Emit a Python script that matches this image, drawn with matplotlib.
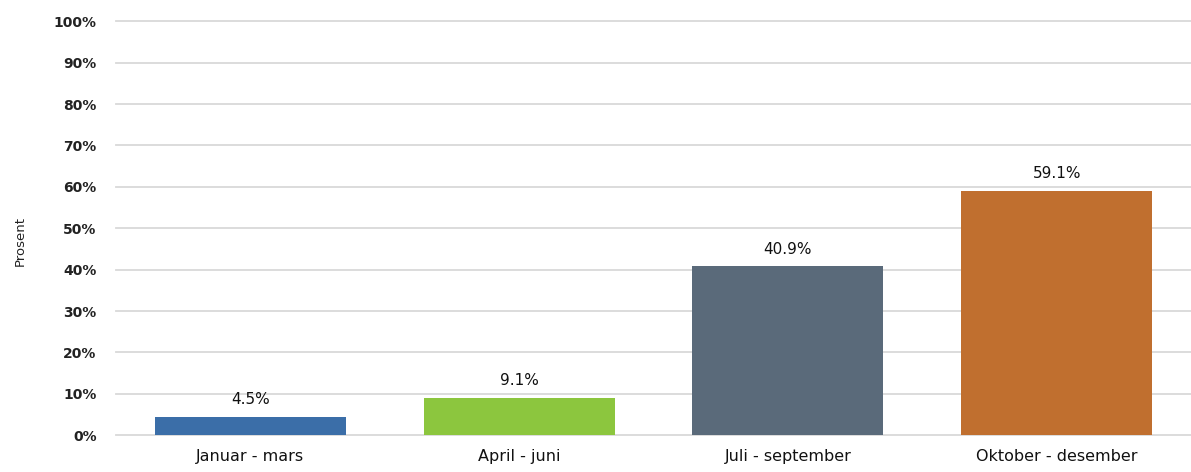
import matplotlib.pyplot as plt

kvartal = ['Januar - mars', 'April - juni', 'Juli - september', 'Oktober - desember']
prosent = [4.5, 9.1, 40.9, 59.1]
farger = ['#3b6ea8', '#8cc63e', '#5a6a7a', '#c06f2f']
yticks = [0, 10, 20, 30, 40, 50, 60, 70, 80, 90, 100]

plt.rcParams['font.family'] = ['DejaVu Sans']

fig = plt.figure(figsize=(11.91, 4.72), dpi=100)
ax = fig.add_axes([0.0974, 0.078, 0.9026, 0.877])

ax.bar(range(len(kvartal)), prosent, width=0.71, color=farger, zorder=3)

for i, v in enumerate(prosent):
    ax.text(i, v + 2.2, f"{v:.1f}%", ha='center', va='bottom', fontsize=11, color='#111111')

ax.set_xlim(-0.5, 3.5)
ax.set_ylim(0, 100)
ax.set_yticks(yticks)
ax.set_yticklabels([f"{t}%" for t in yticks], fontsize=10, fontweight='bold', color='#222222')
ax.set_xticks(range(len(kvartal)))
ax.set_xticklabels(kvartal, fontsize=11.5, color='#111111')
ax.tick_params(axis='both', length=0, pad=10)
ax.tick_params(axis='y', pad=14)
ax.grid(axis='y', color='#d9d9d9', linewidth=1.3, zorder=0)
for line in ax.get_ygridlines():
    line.set_clip_on(False)
for s in ax.spines.values():
    s.set_visible(False)

fig.text(0.017, 0.49, 'Prosent', rotation=90, ha='center', va='center', fontsize=9.5, color='#222222')

plt.savefig('out.png', dpi=100)
